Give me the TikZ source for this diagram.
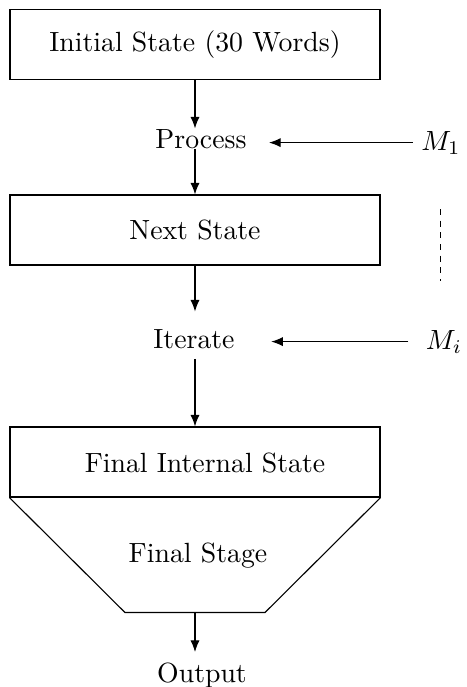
\documentclass[tikz,border=0pt]{standalone}
\usetikzlibrary{arrows.meta}
\begin{document}
\begin{tikzpicture}[x=0.36pt,y=-0.36pt,
  box/.style={draw,line width=0.4pt,minimum width=133.2pt,minimum height=25.2pt,inner sep=0pt},
  lbl/.style={inner sep=0pt,anchor=base},
  arr/.style={line width=0.4pt,-{Latex[length=4.2pt,width=3.3pt]}},
  line/.style={line width=0.4pt}]
\useasboundingbox (0,0) rectangle (467,687);
\node[box] (box1) at (195,44.5) {Initial State (30 Words)};
\node[lbl] (proc) at (201,148) {Process};
\node[lbl] (m1) at (441,150) {$M_1$};
\node[box] (box2) at (195,230) {Next State};
\node[lbl] (iter) at (194,348) {Iterate};
\node[lbl] (mi) at (444,349) {$M_i$};
\node[box] (box3) at (195,462) {};
\node[lbl] (fis) at (205,472) {Final Internal State};
\coordinate (tbl) at (125,612.5);
\coordinate (tbr) at (265,612.5);
\node[lbl] (fs) at (198,562) {Final Stage};
\node[lbl] (out) at (202,682) {Output};
\coordinate (d1) at (440.7,209);
\coordinate (d2) at (440.7,281);

\draw[arr] (box1.south) -- (box1.south |- proc.north);
\draw[arr] (box1.south |- proc.south) -- (box2.north);
\draw[arr,shorten <=2.9pt,shorten >=7.9pt] (m1.west) -- (m1.west -| proc.east);
\draw[arr,shorten >=6.1pt] (box2.south) -- (box2.south |- iter.north);
\draw[arr,shorten <=3.6pt] (box2.south |- iter.south) -- (box3.north);
\draw[arr,shorten <=6.1pt,shorten >=13pt] (mi.west) -- (mi.west -| iter.east);
\draw[line] (box3.south west) -- (tbl) -- (tbr) -- (box3.south east);
\draw[arr] (box3.south |- tbl) -- (box3.south |- 0,652);
\draw[line,dash pattern=on 2.2pt off 2pt] (d1) -- (d2);
\end{tikzpicture}
\end{document}
